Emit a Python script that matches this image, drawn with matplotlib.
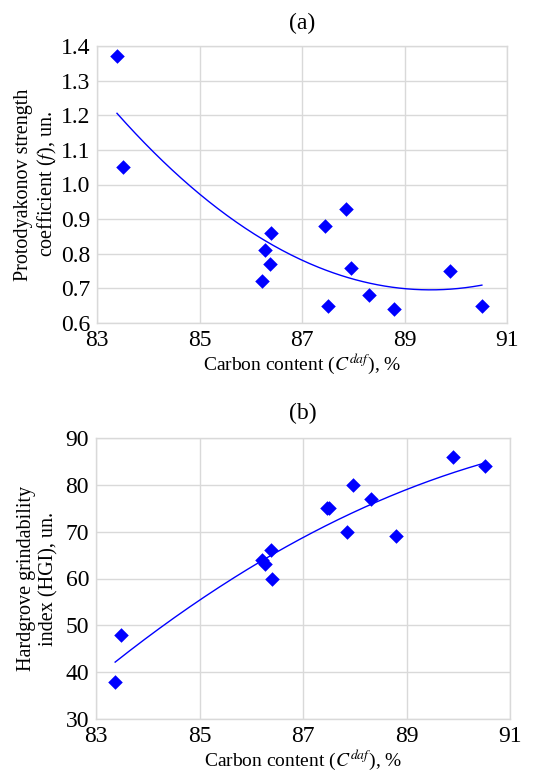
import numpy as np
import matplotlib
matplotlib.use("Agg")
import matplotlib.pyplot as plt
from matplotlib.ticker import FormatStrFormatter

plt.rcParams.update({
    "font.family": ["Liberation Serif", "DejaVu Serif"],
    "mathtext.fontset": "stix",
    "font.size": 14,
})

# carbon content, %
carbon_a = [83.39, 83.51, 86.22, 86.28, 86.38, 86.40, 87.44, 87.50, 87.85, 87.96, 88.31, 88.80, 89.89, 90.51]
strength_f = [1.37, 1.05, 0.72, 0.81, 0.77, 0.86, 0.88, 0.65, 0.93, 0.76, 0.68, 0.64, 0.75, 0.65]

carbon_b = [83.37, 83.49, 86.20, 86.26, 86.38, 86.40, 87.46, 87.51, 87.85, 87.96, 88.32, 88.80, 89.89, 90.52]
hgi = [38, 48, 64, 63, 66, 60, 75, 75, 70, 80, 77, 69, 86, 84]

x_ticks = [83, 85, 87, 89, 91]
GRID = "#d9d9d9"
BLUE = "#0000ff"

fig = plt.figure(figsize=(5.53, 7.72), dpi=100)
W, H = 553, 772
ax_a = fig.add_axes([97 / W, 1 - 323 / H, 410 / W, 277 / H])
ax_b = fig.add_axes([96 / W, 1 - 719 / H, 414 / W, 281 / H])


def style(ax):
    ax.grid(True, color=GRID, linewidth=1.0)
    ax.set_axisbelow(True)
    for s in ax.spines.values():
        s.set_color(GRID)
        s.set_linewidth(1.0)
    ax.tick_params(length=0, pad=5, labelsize=17)
    ax.set_xlim(83, 91)
    ax.set_xticks(x_ticks)
    ax.set_xlabel(r"Carbon content ($C^{daf}$), %", labelpad=0, fontsize=14)


def trend(ax, x, y):
    c = np.polyfit(x, y, 2)
    xs = np.linspace(min(x), max(x), 200)
    ax.plot(xs, np.polyval(c, xs), color=BLUE, linewidth=1.0, zorder=2)
    ax.scatter(x, y, marker="D", s=55, color=BLUE, zorder=3, linewidths=0)


# (a)
style(ax_a)
trend(ax_a, carbon_a, strength_f)
ax_a.set_ylim(0.6, 1.4)
ax_a.set_yticks(np.arange(0.6, 1.41, 0.1))
ax_a.yaxis.set_major_formatter(FormatStrFormatter("%.1f"))
ax_a.set_ylabel("Protodyakonov strength\ncoefficient ($f$), un.", labelpad=1, fontsize=14.5)
ax_a.set_title("(a)", pad=12, fontsize=17)

# (b)
style(ax_b)
trend(ax_b, carbon_b, hgi)
ax_b.set_ylim(30, 90)
ax_b.set_yticks(range(30, 91, 10))
ax_b.set_ylabel("Hardgrove grindability\nindex (HGI), un.", labelpad=5, fontsize=14.5)
ax_b.set_title("(b)", pad=14, fontsize=17)

fig.savefig("out.png", dpi=100)
